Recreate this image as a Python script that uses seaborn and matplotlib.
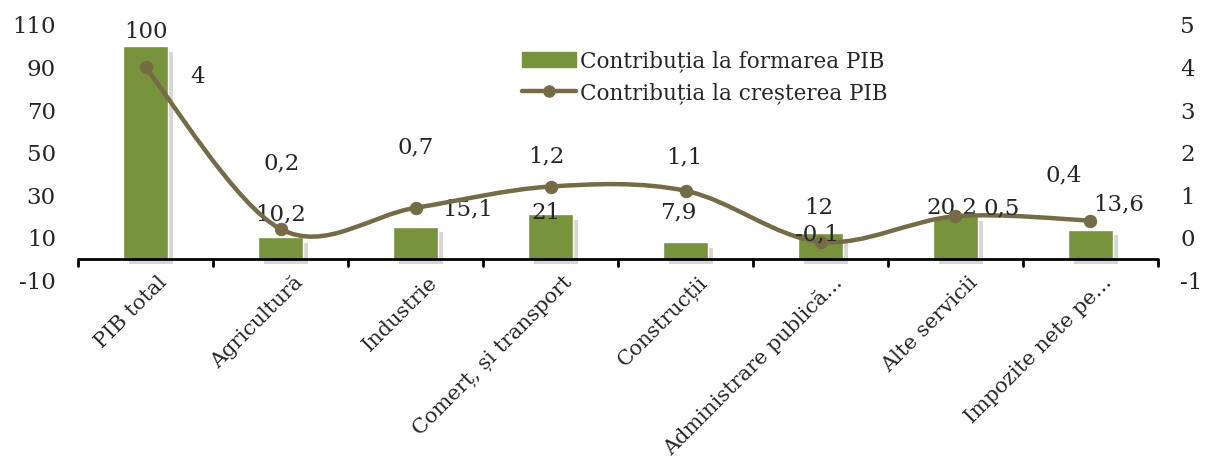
import numpy as np
import pandas as pd
import matplotlib
matplotlib.use('Agg')
import matplotlib.pyplot as plt
import matplotlib.patheffects as pe
import matplotlib.transforms as mtransforms
from matplotlib.path import Path
from matplotlib.patches import PathPatch, Patch
from matplotlib.lines import Line2D
import seaborn as sns

# data
categories = ['PIB total', 'Agricultură', 'Industrie', 'Comerț, și transport',
              'Construcții', 'Administrare publică...', 'Alte servicii', 'Impozite nete pe...']
share = [100, 10.2, 15.1, 21, 7.9, 12, 20.2, 13.6]      # contributia la formarea PIB (left axis)
growth = [4, 0.2, 0.7, 1.2, 1.1, -0.1, 0.5, 0.4]         # contributia la cresterea PIB (right axis)
share_labels = ['100', '10,2', '15,1', '21', '7,9', '12', '20,2', '13,6']
growth_labels = ['4', '0,2', '0,7', '1,2', '1,1', '-0,1', '0,5', '0,4']

# label offsets in pixels (style only)
share_off = [(0, 14), (0, 23), (52, 17), (-5, 1), (-7, 30), (-2, 25), (-4, 8), (28, 25)]
growth_off = [(52, -10), (1, 66), (0, 60), (-4, 30), (-1, 33), (-4, 7), (46, 8), (-27, 45)]

bar_color = '#77933C'
line_color = '#756B45'

sns.set_style('white')
plt.rcParams['font.family'] = ['DejaVu Serif']
plt.rcParams['axes.unicode_minus'] = False
FS = 16.5

df = pd.DataFrame({'cat': categories, 'share': share, 'growth': growth})
x = np.arange(len(categories))

fig, ax = plt.subplots(figsize=(12.08, 4.66), dpi=100)
fig.subplots_adjust(left=0.0646, right=0.9586, top=0.9464, bottom=0.399)

sns.barplot(data=df, x='cat', y='share', color=bar_color, width=0.33,
            saturation=1, ax=ax, zorder=2)
for bar in ax.patches:
    bar.set_path_effects([pe.SimplePatchShadow(offset=(4, -4), shadow_rgbFace='#8c8c8c', alpha=0.35),
                          pe.Normal()])

ax.set_ylim(-10, 110)
ax.set_xlim(-0.5, len(categories) - 0.5)
ax.set_yticks(np.arange(-10, 111, 20))
ax.axhline(0, color='black', lw=2, zorder=3)
for s in ax.spines.values():
    s.set_visible(False)
ax.set_xlabel('')
ax.set_ylabel('')
ax.set_xticks(x)
ax.set_xticklabels(categories, rotation=45, ha='right', va='top',
                   rotation_mode='anchor', fontsize=15)
ax.tick_params(axis='x', which='major', length=0, pad=1)
shift = mtransforms.ScaledTranslation(12 / 100, 9 / 100, fig.dpi_scale_trans)
for lab in ax.get_xticklabels():
    lab.set_transform(lab.get_transform() + shift)
# boundary tick marks hanging from the zero line
for b in np.arange(-0.5, len(categories), 1.0):
    ax.plot([b, b], [0, -3.2], color='black', lw=2, zorder=3, clip_on=False)
ax.tick_params(axis='y', length=0, labelsize=FS, pad=16)

for i, (v, lab) in enumerate(zip(share, share_labels)):
    ax.annotate(lab, (x[i], v), xytext=share_off[i], textcoords='offset pixels',
                ha='center', va='center', fontsize=FS, zorder=5)

ax2 = ax.twinx()
ax2.set_ylim(-1, 5)
ax2.set_yticks(np.arange(-1, 6, 1))
ax2.tick_params(axis='y', length=0, labelsize=FS, pad=16)
for s in ax2.spines.values():
    s.set_visible(False)

# smoothed line drawn as Bezier segments through the data points (Excel-style smoothing)
verts = [(x[0], growth[0])]
codes = [Path.MOVETO]
n = len(growth)
for i in range(n - 1):
    p0 = (x[max(i - 1, 0)], growth[max(i - 1, 0)])
    p1 = (x[i], growth[i])
    p2 = (x[i + 1], growth[i + 1])
    p3 = (x[min(i + 2, n - 1)], growth[min(i + 2, n - 1)])
    c1 = (p1[0] + (p2[0] - p0[0]) / 6, p1[1] + (p2[1] - p0[1]) / 6)
    c2 = (p2[0] - (p3[0] - p1[0]) / 6, p2[1] - (p3[1] - p1[1]) / 6)
    verts += [c1, c2, p2]
    codes += [Path.CURVE4] * 3
ax2.add_patch(PathPatch(Path(verts, codes), facecolor='none', edgecolor=line_color,
                        lw=3.2, capstyle='round', joinstyle='round', zorder=4))
sns.scatterplot(x=x, y=growth, ax=ax2, color=line_color, s=80, edgecolor=line_color,
                zorder=5, legend=False)
ax2.set_ylabel('')

for i, (v, lab) in enumerate(zip(growth, growth_labels)):
    ax2.annotate(lab, (x[i], v), xytext=growth_off[i], textcoords='offset pixels',
                 ha='center', va='center', fontsize=FS, zorder=6)

handles = [Patch(facecolor=bar_color, edgecolor=bar_color),
           Line2D([0], [0], color=line_color, lw=3.2, marker='o', markersize=8)]
ax2.legend(handles, ['Contribuția la formarea PIB', 'Contribuția la creșterea PIB'],
           loc='upper left', bbox_to_anchor=(0.401, 0.943), frameon=False, fontsize=15.5,
           handlelength=2.5, handletextpad=0.2, labelspacing=0.45, borderpad=0)

fig.savefig('out.png', dpi=100)
